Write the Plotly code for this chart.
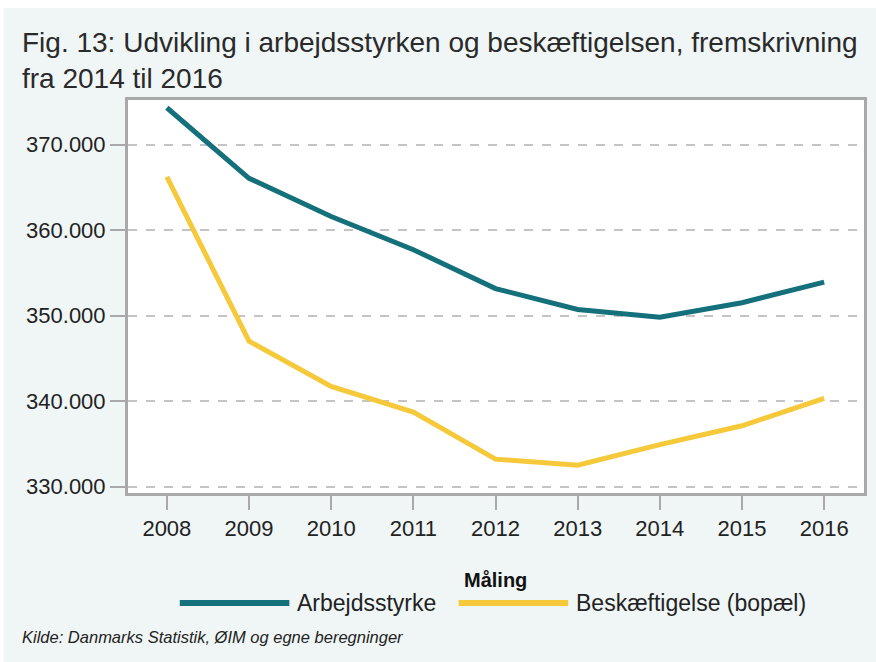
import plotly.graph_objects as go

years = [2008, 2009, 2010, 2011, 2012, 2013, 2014, 2015, 2016]
arbejdsstyrke = [374300, 366050, 361580, 357700, 353150, 350700, 349800, 351500, 353900]
beskaeftigelse = [366200, 347000, 341700, 338700, 333200, 332500, 334900, 337100, 340300]
series_names = ["Arbejdsstyrke", "Beskæftigelse (bopæl)"]
y_ticks = [330000, 340000, 350000, 360000, 370000]

TEAL = "#14707a"
YELLOW = "#f6c93a"
BG = "#f0f6f6"
FONT = "Liberation Sans, Arial, sans-serif"

W, H = 876, 662
L, R, T, B = 128, 9, 100, 169
PW = W - L - R
PH = H - T - B


def px(x):
    return (x - L) / PW


def py(y):
    return (H - B - y) / PH


fig = go.Figure()
fig.add_trace(go.Scatter(x=years, y=arbejdsstyrke, name=series_names[0], mode="lines",
                         line=dict(color=TEAL, width=5), showlegend=False))
fig.add_trace(go.Scatter(x=years, y=beskaeftigelse, name=series_names[1], mode="lines",
                         line=dict(color=YELLOW, width=5), showlegend=False))

# custom legend
shapes = [
    dict(type="line", xref="paper", yref="paper", x0=px(180), x1=px(290), y0=py(603), y1=py(603),
         line=dict(color=TEAL, width=6)),
    dict(type="line", xref="paper", yref="paper", x0=px(460), x1=px(570), y0=py(603), y1=py(603),
         line=dict(color=YELLOW, width=6)),
    # white border strips at top/left of image
    dict(type="rect", xref="paper", yref="paper", x0=px(-5), x1=px(W + 5), y0=py(8), y1=py(-5),
         line=dict(width=0), fillcolor="white", layer="below"),
    dict(type="rect", xref="paper", yref="paper", x0=px(-5), x1=px(3), y0=py(H + 5), y1=py(-5),
         line=dict(width=0), fillcolor="white", layer="below"),
]

annotations = [
    dict(text="<b>Måling</b>", xref="paper", yref="paper", x=px(497), y=py(580), xanchor="center",
         yanchor="middle", showarrow=False, font=dict(family=FONT, size=20, color="#111111")),
    dict(text=series_names[0], xref="paper", yref="paper", x=px(296), y=py(603), xanchor="left",
         yanchor="middle", showarrow=False, font=dict(family=FONT, size=23, color="#222222")),
    dict(text=series_names[1], xref="paper", yref="paper", x=px(576), y=py(603), xanchor="left",
         yanchor="middle", showarrow=False, font=dict(family=FONT, size=23, color="#222222")),
    dict(text="<i>Kilde: Danmarks Statistik, ØIM og egne beregninger</i>", xref="paper", yref="paper",
         x=px(20), y=py(637), xanchor="left", yanchor="middle", showarrow=False,
         font=dict(family=FONT, size=16.5, color="#222222")),
]

fig.update_layout(
    width=W, height=H,
    margin=dict(l=L, r=R, t=T, b=B),
    paper_bgcolor=BG,
    plot_bgcolor="white",
    separators=",.",
    title=dict(text="Fig. 13: Udvikling i arbejdsstyrken og beskæftigelsen, fremskrivning<br>fra 2014 til 2016",
               x=22 / W, xanchor="left", xref="container",
               y=1 - 52 / H, yanchor="top", yref="container",
               font=dict(family=FONT, size=28, color="#2a2a2a")),
    shapes=shapes,
    annotations=annotations,
    xaxis=dict(range=[2007.527, 2016.485], tickvals=years, ticktext=[str(y) for y in years],
               showgrid=False, zeroline=False, showline=True, mirror=True,
               linecolor="#a9a9a9", linewidth=3,
               ticks="outside", ticklen=14, tickwidth=2, tickcolor="#a9a9a9",
               tickfont=dict(family=FONT, size=22, color="#222222")),
    yaxis=dict(range=[329240, 375205], tickvals=y_ticks, tickformat=",.0f",
               showgrid=True, gridcolor="#c4c4c4", gridwidth=1.5, griddash="dash",
               zeroline=False, showline=True, mirror=True,
               linecolor="#a9a9a9", linewidth=3,
               ticks="outside", ticklen=15, tickwidth=2, tickcolor="#a9a9a9",
               tickfont=dict(family=FONT, size=22, color="#222222")),
)

fig.write_html("out.html", config={"displayModeBar": False},
               post_script="document.body.style.margin='0px';")
